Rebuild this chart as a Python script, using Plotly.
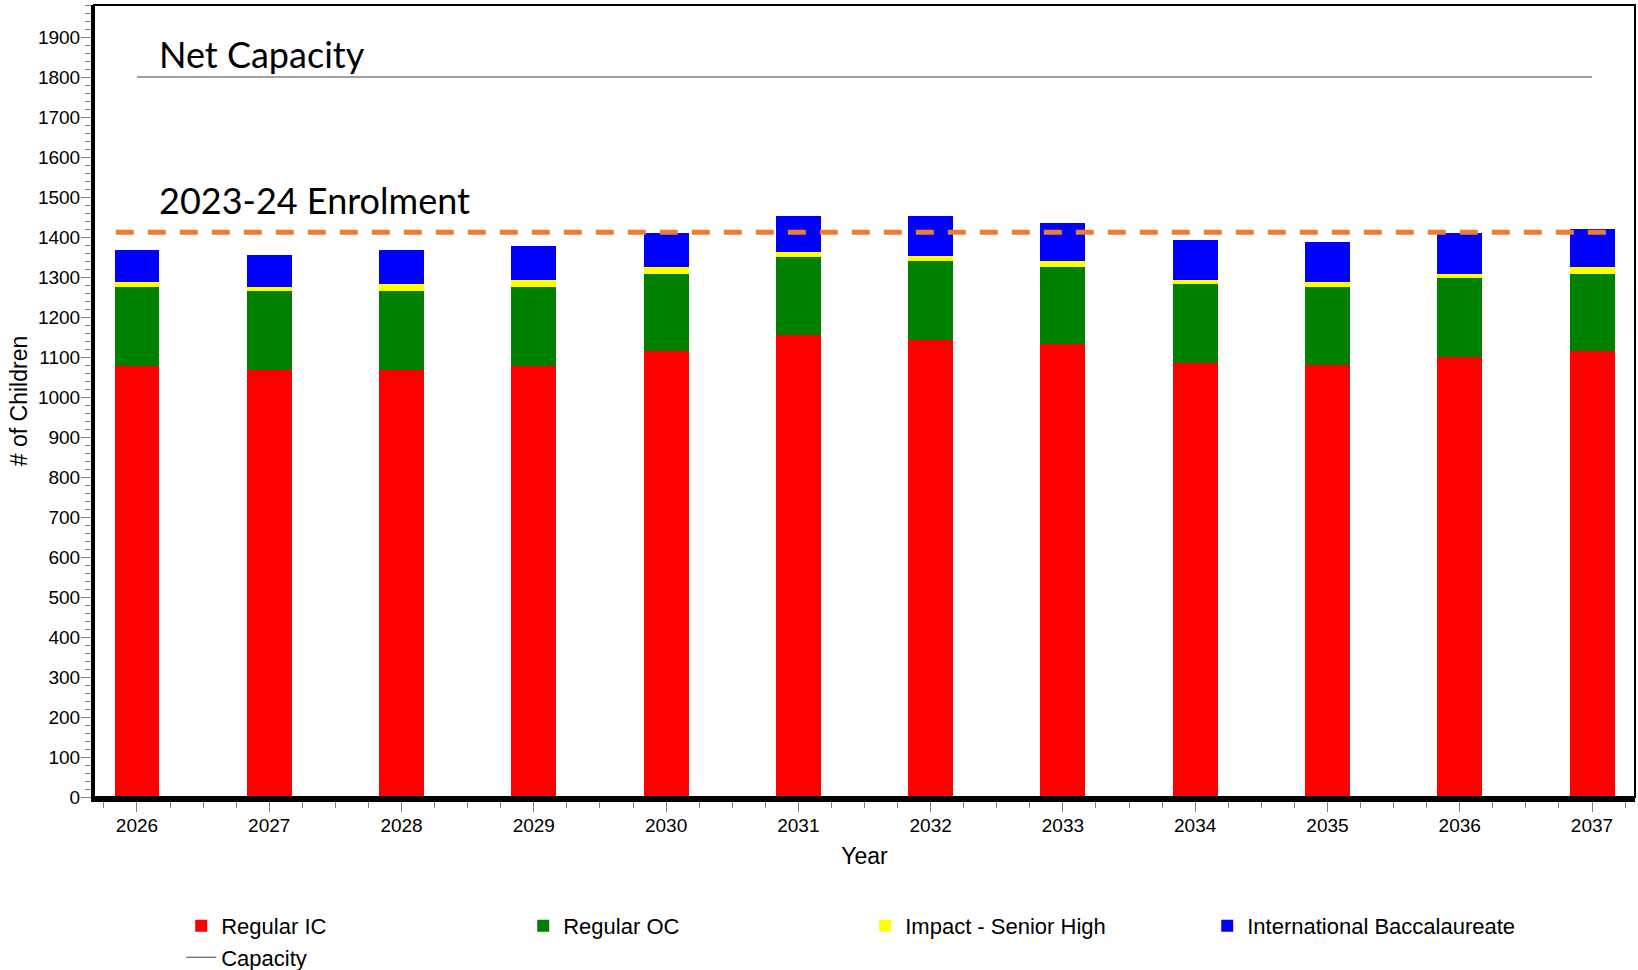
import plotly.graph_objects as go

years = [2026, 2027, 2028, 2029, 2030, 2031, 2032, 2033, 2034, 2035, 2036, 2037]
regular_ic = [1078, 1068, 1068, 1078, 1116, 1154, 1143, 1132, 1084, 1079, 1100, 1116]
regular_oc = [198, 198, 198, 198, 192, 197, 197, 192, 198, 197, 197, 192]
impact_senior_high = [11, 10, 16, 16, 16, 11, 12, 16, 10, 11, 11, 16]
international_bacc = [80, 80, 85, 85, 85, 90, 100, 96, 101, 101, 101, 96]
capacity = [1800] * 12
enrolment_2023_24 = 1412

NARROW = "Liberation Sans, Arial, sans-serif"
TITLEFONT = "Lato, Open Sans, sans-serif"

fig = go.Figure()
series = [
    ("Regular IC", regular_ic, "#FF0000"),
    ("Regular OC", regular_oc, "#008000"),
    ("Impact - Senior High", impact_senior_high, "#FFFF00"),
    ("International Baccalaureate", international_bacc, "#0000FF"),
]
for name, vals, col in series:
    fig.add_trace(go.Bar(x=years, y=vals, name=name, width=0.34,
                         marker=dict(color=col, line=dict(width=0))))

fig.add_trace(go.Scatter(x=years, y=capacity, name="Capacity", mode="lines",
                         line=dict(color="#404040", width=1)))

fig.update_layout(
    barmode="stack",
    width=1638, height=970,
    margin=dict(l=94, r=3, t=5, b=173, autoexpand=False),
    paper_bgcolor="white", plot_bgcolor="white",
    font=dict(family=NARROW, size=19, color="black"),
    showlegend=True,
    legend=dict(orientation="h", x=0.0566, xanchor="left", y=-0.1362, yanchor="top",
                font=dict(family=NARROW, size=22, color="black"),
                entrywidth=297, traceorder="normal", bgcolor="rgba(0,0,0,0)"),
    xaxis=dict(range=[2025.675, 2037.325], tickvals=years, ticktext=[str(y) for y in years],
               automargin=False, ticklabelstandoff=-3,
               showgrid=False, zeroline=False, showline=True, linecolor="black", linewidth=5,
               ticks="outside", ticklen=10, tickcolor="gray", tickwidth=1,
               minor=dict(dtick=0.25, tick0=2026, ticks="outside", ticklen=6, tickcolor="gray", showgrid=False),
               title=dict(text="Year", standoff=15, font=dict(size=23))),
    yaxis=dict(range=[0, 1980], dtick=100, showgrid=False, zeroline=False, automargin=False,
               ticklabelstandoff=-3,
               showline=True, linecolor="black", linewidth=3,
               ticks="outside", ticklen=10, tickcolor="gray", tickwidth=1,
               minor=dict(dtick=20, ticks="outside", ticklen=6, tickcolor="gray", showgrid=False),
               title=dict(text="# of Children", standoff=4, font=dict(size=23))),
    shapes=[
        dict(type="rect", xref="paper", yref="paper", x0=0, x1=1, y0=0, y1=1,
             line=dict(color="black", width=2), layer="above"),
        dict(type="line", xref="x", yref="y", x0=2025.84, x1=2037.13,
             y0=enrolment_2023_24, y1=enrolment_2023_24,
             line=dict(color="#ED7D31", width=5, dash="18px,14px"), layer="above"),
    ],
    annotations=[
        dict(text="Net Capacity", xref="paper", yref="y", x=0.041, y=1858,
             xanchor="left", yanchor="middle", showarrow=False,
             font=dict(family=TITLEFONT, size=36, color="black")),
        dict(text="2023-24 Enrolment", xref="paper", yref="y", x=0.041, y=1492,
             xanchor="left", yanchor="middle", showarrow=False,
             font=dict(family=TITLEFONT, size=36, color="black")),
    ],
)

fig.write_html("out.html", config={"displayModeBar": False},
               post_script="document.body.style.margin='0px';document.body.style.overflow='hidden';")
